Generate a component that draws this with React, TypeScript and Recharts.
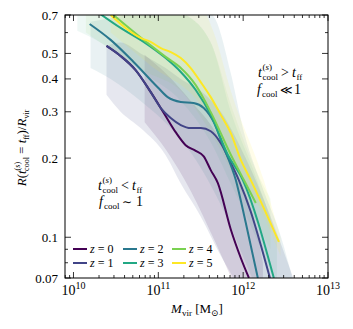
import React from 'react';
import { ComposedChart, Line, Area, XAxis, YAxis } from 'recharts';

const COLORS = ['#440154', '#414487', '#2a788e', '#22a884', '#7ad151', '#fde725'];
const REDSHIFTS = ['0', '1', '2', '3', '4', '5'];

// median curves
const z0Mass = [2.45e10, 3.59e10, 5.4e10, 8.11e10, 1.16e11, 1.6e11, 2.1e11, 2.76e11, 3.43e11, 4.15e11, 5.02e11, 7.15e11, 9.38e11, 1.17e12];
const z0R = [0.534, 0.489, 0.432, 0.357, 0.297, 0.251, 0.224, 0.213, 0.203, 0.18, 0.161, 0.107, 0.0834, 0.07];
const z1Mass = [2.45e10, 3.59e10, 5.4e10, 8.11e10, 1.07e11, 1.4e11, 1.84e11, 2.41e11, 3.16e11, 4.15e11, 5.45e11, 7.15e11, 8.89e11, 1.23e12, 1.62e12, 2.07e12];
const z1R = [0.534, 0.489, 0.432, 0.357, 0.31, 0.284, 0.267, 0.26, 0.26, 0.253, 0.228, 0.192, 0.165, 0.125, 0.093, 0.07];
const z2Mass = [1.55e10, 2.74e10, 5.11e10, 9.82e10, 1.29e11, 1.84e11, 2.61e11, 3.43e11, 4.5e11, 5.75e11, 8.19e11, 1.07e12, 1.49e12];
const z2R = [0.647, 0.563, 0.464, 0.372, 0.341, 0.327, 0.324, 0.31, 0.274, 0.224, 0.165, 0.114, 0.07];
const z3Mass = [1.9e10, 3.59e10, 6.71e10, 1.22e11, 1.84e11, 2.76e11, 4.15e11, 6.59e11, 9.91e11, 2.3e12];
const z3R = [0.72, 0.625, 0.553, 0.48, 0.425, 0.363, 0.292, 0.206, 0.165, 0.07];
const z4Mass = [2.3e10, 6.71e10, 1.22e11, 1.84e11, 2.76e11, 4.15e11, 7.15e11, 1.02e12, 1.41e12];
const z4R = [0.75, 0.563, 0.485, 0.44, 0.379, 0.299, 0.206, 0.165, 0.135];
const z5Mass = [2.74e10, 4.11e10, 6.18e10, 8.11e10, 1.07e11, 1.4e11, 1.84e11, 2.41e11, 3.16e11, 4.15e11, 5.45e11, 7.15e11, 9.38e11, 1.23e12, 2.64e12];
const z5R = [0.7, 0.625, 0.573, 0.553, 0.524, 0.506, 0.48, 0.44, 0.389, 0.341, 0.292, 0.249, 0.197, 0.165, 0.096];

// scatter bands
const b0Mass = [6.9e10, 1.22e11, 2.41e11, 4.75e11, 8.19e11, 1.41e12, 1.71e12];
const b0Low = [0.274, 0.216, 0.15, 0.095, 0.065, 0.05, 0.05];
const b0High = [0.494, 0.42, 0.33, 0.25, 0.17, 0.11, 0.08];
const b1Mass = [2.45e10, 3.59e10, 6.18e10, 1.22e11, 1.84e11, 3.16e11, 5.45e11, 1.07e12, 2.1e12, 3.9e12];
const b1Low = [0.348, 0.3, 0.26, 0.205, 0.16, 0.12, 0.085, 0.06, 0.05, 0.05];
const b1High = [0.534, 0.55, 0.5, 0.44, 0.4, 0.36, 0.3, 0.2, 0.12, 0.07];
const b2Mass = [1.59e10, 2.74e10, 6.18e10, 1.4e11, 2.41e11, 4.5e11, 7.15e11, 9.91e11, 1.62e12, 2.8e12, 3.8e12];
const b2Low = [0.44, 0.4, 0.33, 0.26, 0.21, 0.15, 0.11, 0.085, 0.06, 0.05, 0.05];
const b2High = [0.66, 0.68, 0.72, 0.78, 0.78, 0.69, 0.42, 0.26, 0.16, 0.1, 0.07];
const b3Mass = [1.11e10, 2.08e10, 6.7e10, 1.84e11, 4.15e11, 7.15e11, 1.41e12, 2.5e12];
const b3Low = [0.61, 0.55, 0.42, 0.33, 0.23, 0.16, 0.1, 0.065];
const b3High = [0.8, 0.8, 0.8, 0.72, 0.55, 0.3, 0.17, 0.1];
const b4Mass = [1.4e10, 6.7e10, 1.84e11, 4.15e11, 7.15e11, 1.41e12, 2.1e12];
const b4Low = [0.6, 0.43, 0.36, 0.25, 0.18, 0.115, 0.09];
const b4High = [0.8, 0.8, 0.72, 0.55, 0.32, 0.18, 0.14];
const b5Mass = [2.74e10, 8.11e10, 3.16e11, 4.5e11, 7.15e11, 1.75e12, 2.75e12];
const b5Low = [0.6, 0.45, 0.32, 0.27, 0.2, 0.12, 0.085];
const b5High = [0.8, 0.8, 0.75, 0.6, 0.36, 0.165, 0.1];

const X_TICKS = [8e9, 9e9, 1e10, 2e10, 3e10, 4e10, 5e10, 6e10, 7e10, 8e10, 9e10, 1e11, 2e11, 3e11, 4e11, 5e11, 6e11, 7e11, 8e11, 9e11, 1e12, 2e12, 3e12, 4e12, 5e12, 6e12, 7e12, 8e12, 9e12, 1e13];
const Y_TICKS = [0.07, 0.08, 0.09, 0.1, 0.2, 0.3, 0.4, 0.5, 0.6, 0.7];
const Y_LABELED = [0.07, 0.1, 0.2, 0.3, 0.4, 0.5, 0.7];
const BAND_OPACITY = [0.12, 0.13, 0.1, 0.08, 0.08, 0.1];

const W = 353;
const H = 329;
const LEFT = 65;
const TOP = 15;
const RIGHT = 328;
const BOTTOM = 278;
const FONT = 'Liberation Serif, DejaVu Serif, serif';

const lines = [
  [z0Mass, z0R], [z1Mass, z1R], [z2Mass, z2R], [z3Mass, z3R], [z4Mass, z4R], [z5Mass, z5R],
].map(([m, r]) => m.map((v, i) => ({ m: v, r: r[i] })));

const bands = [
  [b0Mass, b0Low, b0High], [b1Mass, b1Low, b1High], [b2Mass, b2Low, b2High],
  [b3Mass, b3Low, b3High], [b4Mass, b4Low, b4High], [b5Mass, b5Low, b5High],
].map(([m, lo, hi]) => m.map((v, i) => ({ m: v, range: [lo[i], hi[i]] })));

const XTick = (props: any) => {
  const { x, payload } = props;
  const v = payload.value;
  const lg = Math.log10(v);
  const exp = Math.round(lg);
  const major = Math.abs(lg - exp) < 1e-6;
  const len = major ? 6 : 3;
  return (
    <g>
      <line x1={x} x2={x} y1={BOTTOM} y2={BOTTOM - len} stroke="#000" strokeWidth={0.8} />
      <line x1={x} x2={x} y1={TOP} y2={TOP + len} stroke="#000" strokeWidth={0.8} />
      {major && (
        <text x={x} y={295} textAnchor="middle" fontFamily={FONT} fontSize={14} fill="#000">
          10<tspan dy={-6} fontSize={10}>{exp}</tspan>
        </text>
      )}
    </g>
  );
};

const YTick = (props: any) => {
  const { y, payload } = props;
  const v = payload.value;
  const labeled = Y_LABELED.some((t) => Math.abs(t - v) < 1e-9);
  const len = labeled ? 6 : 3;
  return (
    <g>
      <line x1={LEFT} x2={LEFT + len} y1={y} y2={y} stroke="#000" strokeWidth={0.8} />
      <line x1={RIGHT} x2={RIGHT - len} y1={y} y2={y} stroke="#000" strokeWidth={0.8} />
      {labeled && (
        <text x={58} y={y + 4.5} textAnchor="end" fontFamily={FONT} fontSize={13} fill="#000">
          {String(v)}
        </text>
      )}
    </g>
  );
};

const Tcool = ({ x, y, rel }: { x: number; y: number; rel: string }) => (
  <g fontFamily={FONT} fill="#000">
    <text x={x} y={y} fontSize={14} fontStyle="italic">t</text>
    <text x={x + 4.5} y={y - 7} fontSize={9}>(<tspan fontStyle="italic">s</tspan>)</text>
    <text x={x + 4.5} y={y + 3} fontSize={9}>cool</text>
    <text x={x + 23} y={y} fontSize={14}>{rel}</text>
    <text x={x + 34} y={y} fontSize={14} fontStyle="italic">t</text>
    <text x={x + 38.5} y={y + 3} fontSize={9}>ff</text>
  </g>
);

const Fcool = ({ x, y, rel, val }: { x: number; y: number; rel: string; val: string }) => (
  <g fontFamily={FONT} fill="#000">
    <text x={x} y={y} fontSize={14} fontStyle="italic">f</text>
    <text x={x + 5} y={y + 3} fontSize={9}>cool</text>
    <text x={x + 23} y={y} fontSize={12}>{rel}</text>
    <text x={x + 37} y={y} fontSize={14}>{val}</text>
  </g>
);

const legendPos = [
  [73, 249], [73, 263], [123, 249], [123, 263], [172, 249], [172, 263],
];

export default function App() {
  return (
    <div style={{ position: 'absolute', left: 0, top: 0, width: W, height: H, background: '#fff' }}>
      <ComposedChart width={W} height={H} margin={{ top: TOP, right: W - RIGHT, bottom: 0, left: 0 }}>
        <XAxis
          dataKey="m"
          type="number"
          scale="log"
          domain={[Math.pow(10, 9.9), 1e13]}
          allowDataOverflow
          ticks={X_TICKS}
          interval={0}
          tick={XTick}
          tickLine={false}
          axisLine={false}
          height={H - BOTTOM}
        />
        <YAxis
          type="number"
          scale="log"
          domain={[0.07, 0.7]}
          allowDataOverflow
          ticks={Y_TICKS}
          interval={0}
          tick={YTick}
          tickLine={false}
          axisLine={false}
          width={LEFT}
        />
        {bands.map((d, i) => (
          <Area
            key={'b' + i}
            data={d}
            dataKey="range"
            type="monotone"
            stroke="none"
            fill={COLORS[i]}
            fillOpacity={BAND_OPACITY[i]}
            isAnimationActive={false}
            dot={false}
            activeDot={false}
          />
        ))}
        {lines.map((d, i) => (
          <Line
            key={'l' + i}
            data={d}
            dataKey="r"
            type="monotone"
            stroke={COLORS[i]}
            strokeWidth={2}
            dot={false}
            activeDot={false}
            isAnimationActive={false}
          />
        ))}
      </ComposedChart>
      <svg width={W} height={H} style={{ position: 'absolute', left: 0, top: 0, pointerEvents: 'none' }}>
        <rect x={LEFT} y={TOP} width={RIGHT - LEFT} height={BOTTOM - TOP} fill="none" stroke="#000" strokeWidth={1} />
        <Tcool x={258} y={77} rel=">" />
        <Fcool x={257} y={94} rel="≪" val="1" />
        <Tcool x={98} y={190} rel="<" />
        <Fcool x={99} y={206} rel="∼" val="1" />
        {REDSHIFTS.map((z, i) => (
          <g key={z}>
            <line x1={legendPos[i][0]} x2={legendPos[i][0] + 14} y1={legendPos[i][1]} y2={legendPos[i][1]} stroke={COLORS[i]} strokeWidth={2} />
            <text x={legendPos[i][0] + 17} y={legendPos[i][1] + 4} fontFamily={FONT} fontSize={12} fill="#000">
              <tspan fontStyle="italic">z</tspan> = {z}
            </text>
          </g>
        ))}
        <g transform="translate(26,148) rotate(-90)">
          <text x={0} y={0} textAnchor="middle" fontFamily={FONT} fontSize={13} fill="#000">
            <tspan fontStyle="italic">R</tspan>(<tspan fontStyle="italic">t</tspan>
            <tspan dy={-6} fontSize={8}>(<tspan fontStyle="italic">s</tspan>)</tspan>
            <tspan dx={-9} dy={9} fontSize={8}>cool</tspan>
            <tspan dy={-3}> = </tspan>
            <tspan fontStyle="italic">t</tspan>
            <tspan dy={3} fontSize={8}>ff</tspan>
            <tspan dy={-3}>)/</tspan>
            <tspan fontStyle="italic">R</tspan>
            <tspan dy={3} fontSize={8}>vir</tspan>
          </text>
        </g>
        <text x={197} y={313} textAnchor="middle" fontFamily={FONT} fontSize={13} fill="#000">
          <tspan fontStyle="italic">M</tspan>
          <tspan dy={3} fontSize={9}>vir</tspan>
          <tspan dy={-3}> [M</tspan>
          <tspan dy={3} fontSize={9}>⊙</tspan>
          <tspan dy={-3}>]</tspan>
        </text>
      </svg>
    </div>
  );
}
